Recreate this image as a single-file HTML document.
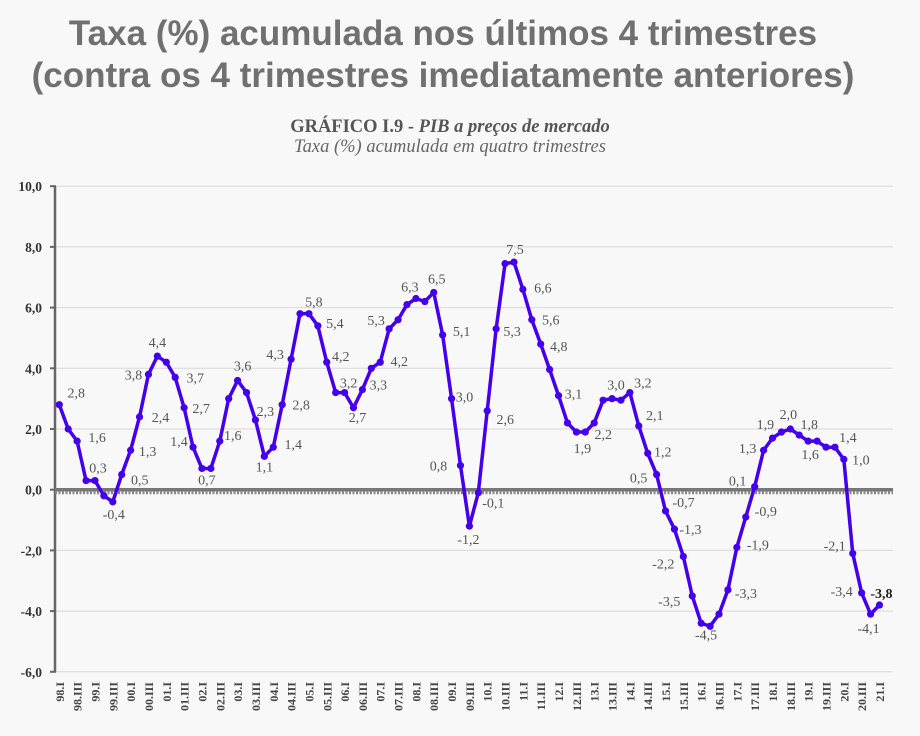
<!DOCTYPE html>
<html><head><meta charset="utf-8">
<style>
body{margin:0;background:#f8f8f8;width:920px;height:736px;overflow:hidden;font-family:"Liberation Sans",sans-serif}
.t{position:absolute;left:0;width:920px;text-align:center;color:#707070;font-weight:bold;font-size:35px;line-height:40px}
</style></head><body>
<div class="t" style="top:14px;left:-17px">Taxa (%) acumulada nos últimos 4 trimestres</div>
<div class="t" style="top:56px;left:-17px">(contra os 4 trimestres imediatamente anteriores)</div>
<svg id="c" width="920" height="736" style="position:absolute;left:0;top:0">
<text x="450" y="132" text-anchor="middle" font-family="Liberation Serif" font-weight="bold" font-size="18.5" fill="#555">GRÁFICO I.9 - <tspan font-style="italic">PIB a preços de mercado</tspan></text>
<text x="450" y="152" text-anchor="middle" font-family="Liberation Serif" font-style="italic" font-size="18.5" fill="#666">Taxa (%) acumulada em quatro trimestres</text>
</svg>
<script>
const values=[2.8,2.0,1.6,0.3,0.3,-0.2,-0.4,0.5,1.3,2.4,3.8,4.4,4.2,3.7,2.7,1.4,0.7,0.7,1.6,3.0,3.6,3.2,2.3,1.1,1.4,2.8,4.3,5.8,5.8,5.4,4.2,3.2,3.2,2.7,3.3,4.0,4.2,5.3,5.6,6.1,6.3,6.2,6.5,5.1,3.0,0.8,-1.2,-0.1,2.6,5.3,7.45,7.5,6.6,5.6,4.8,3.96,3.1,2.2,1.9,1.9,2.2,2.95,3.0,2.95,3.2,2.1,1.2,0.5,-0.7,-1.3,-2.2,-3.5,-4.4,-4.5,-4.1,-3.3,-1.9,-0.9,0.1,1.3,1.7,1.9,2.0,1.8,1.6,1.6,1.4,1.4,1.0,-2.1,-3.4,-4.1,-3.8];
const yTicks=[10,8,6,4,2,0,-2,-4,-6];
const labelIdx=[0,2,4,6,7,8,9,10,11,13,14,15,17,18,20,22,23,24,25,26,28,29,30,32,33,34,36,37,40,42,43,44,45,46,47,48,49,51,52,53,54,56,58,59,62,64,65,66,67,68,69,70,71,73,75,76,77,78,79,81,82,83,84,87,88,89,90,91,92];
const labelTxt=["2,8","1,6","0,3","-0,4","0,5","1,3","2,4","3,8","4,4","3,7","2,7","1,4","0,7","1,6","3,6","2,3","1,1","1,4","2,8","4,3","5,8","5,4","4,2","3,2","2,7","3,3","4,2","5,3","6,3","6,5","5,1","3,0","0,8","-1,2","-0,1","2,6","5,3","7,5","6,6","5,6","4,8","3,1","1,9","2,2","3,0","3,2","2,1","1,2","0,5","-0,7","-1,3","-2,2","-3,5","-4,5","-3,3","-1,9","-0,9","0,1","1,3","1,9","2,0","1,8","1,6","1,4","1,0","-2,1","-3,4","-4,1","-3,8"];
const labelOff=[[17,-12],[20,-4],[3,-13],[1,12],[18,5],[17,1],[21,0],[-15,0],[0,-14],[20,0],[17,0],[-14,-6],[-4,11],[13,-6],[5,-15],[10,-9],[0,10],[20,-3],[19,0],[-16,-5],[5,-12],[17,-3],[14,-6],[4,-10],[4,9],[16,-5],[19,-1],[-13,-9],[-6,-12],[3,-14],[19,-4],[13,-2],[-22,0],[-1,13],[15,10],[18,8],[16,2],[1,-13],[20,-2],[19,0],[18,2],[15,-2],[6,16],[18,2],[4,-14],[13,-10],[16,-11],[15,-2],[-18,3],[18,-9],[16,0],[-20,7],[-23,5],[-4,8],[18,3],[21,-3],[20,-6],[-17,-6],[-16,-2],[-16,-8],[-2,-15],[10,-11],[2,13],[13,-10],[17,0],[-18,-8],[-20,-2],[-2,14],[2,-12]];
const NS="http://www.w3.org/2000/svg",svg=document.getElementById('c');
const X0=59.3,DX=8.915,Y0=489.7,UY=30.35;
const xs=i=>X0+i*DX, ys=v=>Y0-v*UY;
function mk(t,a,p){const e=document.createElementNS(NS,t);for(const k in a)e.setAttribute(k,a[k]);(p||svg).appendChild(e);return e;}
yTicks.forEach(v=>{
 const g=mk('line',{x1:55,x2:893,y1:ys(v),y2:ys(v),stroke:'#d8d8d8','stroke-width':1});
 
 
 const t=mk('text',{x:42,y:ys(v)+5,'text-anchor':'end','font-family':'Liberation Serif','font-weight':'bold','font-size':13.5,fill:'#333'});
 t.textContent=v.toFixed(1).replace('.',',');
 
 
 const tk=mk('line',{x1:50,x2:56,y1:ys(v),y2:ys(v),stroke:'#666','stroke-width':2});
 
 
});
const ax=mk('line',{x1:55,x2:55,y1:ys(10),y2:ys(-6),stroke:'#666','stroke-width':2.5});


const zl=mk('line',{x1:55,x2:893,y1:Y0,y2:Y0,stroke:'#777','stroke-width':3.5});


const zt=mk('line',{x1:55,x2:893,y1:Y0+3,y2:Y0+3,stroke:'#888','stroke-width':3,'stroke-dasharray':'2 1.5'});


const pl=mk('polyline',{points:values.map((v,i)=>xs(i)+','+ys(v)).join(' '),fill:'none',stroke:'#4400ee','stroke-width':3.5,'stroke-linejoin':'round'});


values.forEach((v,i)=>{
 const c=mk('circle',{cx:xs(i),cy:ys(v),r:3.6,fill:'#4400ee'});
 
 
});
labelIdx.forEach((idx,k)=>{
 const o=labelOff[k],last=idx===values.length-1;
 const t=mk('text',{x:xs(idx)+o[0],y:ys(values[idx])+o[1]+5,'text-anchor':'middle','font-family':'Liberation Serif','font-size':14,fill:last?'#222':'#555','font-weight':last?'bold':'normal'});
 t.textContent=labelTxt[k];
 
 
});
const yrs=['98','99','00','01','02','03','04','05','06','07','08','09','10','11','12','13','14','15','16','17','18','19','20','21'];
for(let i=0;i<values.length;i+=2){
 const yr=yrs[Math.floor(i/4)],q=(i%4===0)?'I':'III';
 const x=xs(i)+4.5,y=682;
 const t=mk('text',{x:x,y:y,transform:`rotate(-90 ${x} ${y})`,'text-anchor':'end','font-family':'Liberation Serif','font-weight':'bold','font-size':12,fill:'#444'});
 t.textContent=yr+'.'+q;
 
 
}
</script>
</body></html>
